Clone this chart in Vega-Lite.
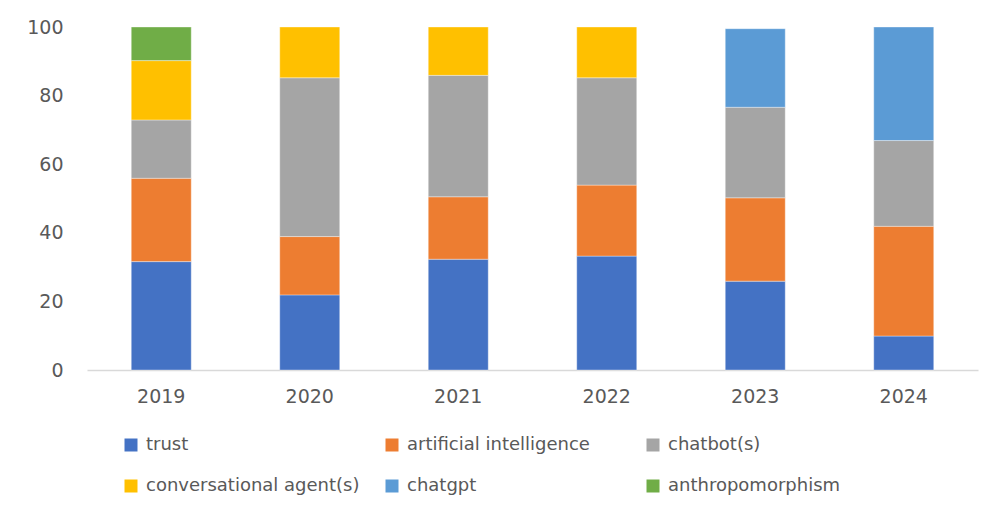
{
  "$schema": "https://vega.github.io/schema/vega-lite/v6.json",
  "autosize": {"type": "none"},
  "width": 891,
  "height": 343,
  "padding": {"left": 87, "top": 27, "right": 20, "bottom": 140},
  "background": "white",
  "data": {
    "values": [
      {"year": "2019", "term": "trust", "value": 31.6},
      {"year": "2019", "term": "artificial intelligence", "value": 24.3},
      {"year": "2019", "term": "chatbot(s)", "value": 17.0},
      {"year": "2019", "term": "conversational agent(s)", "value": 17.3},
      {"year": "2019", "term": "anthropomorphism", "value": 9.8},
      {"year": "2020", "term": "trust", "value": 21.9},
      {"year": "2020", "term": "artificial intelligence", "value": 17.0},
      {"year": "2020", "term": "chatbot(s)", "value": 46.3},
      {"year": "2020", "term": "conversational agent(s)", "value": 14.8},
      {"year": "2021", "term": "trust", "value": 32.3},
      {"year": "2021", "term": "artificial intelligence", "value": 18.2},
      {"year": "2021", "term": "chatbot(s)", "value": 35.4},
      {"year": "2021", "term": "conversational agent(s)", "value": 14.1},
      {"year": "2022", "term": "trust", "value": 33.2},
      {"year": "2022", "term": "artificial intelligence", "value": 20.7},
      {"year": "2022", "term": "chatbot(s)", "value": 31.3},
      {"year": "2022", "term": "conversational agent(s)", "value": 14.8},
      {"year": "2023", "term": "trust", "value": 25.9},
      {"year": "2023", "term": "artificial intelligence", "value": 24.3},
      {"year": "2023", "term": "chatbot(s)", "value": 26.4},
      {"year": "2023", "term": "chatgpt", "value": 22.9},
      {"year": "2024", "term": "trust", "value": 9.9},
      {"year": "2024", "term": "artificial intelligence", "value": 32.0},
      {"year": "2024", "term": "chatbot(s)", "value": 25.0},
      {"year": "2024", "term": "chatgpt", "value": 33.1}
    ]
  },
  "transform": [
    {"calculate": "indexof(['trust', 'artificial intelligence', 'chatbot(s)', 'conversational agent(s)', 'chatgpt', 'anthropomorphism'], datum.term)", "as": "stackOrder"}
  ],
  "mark": {"type": "bar", "stroke": "white", "strokeWidth": 0.6, "strokeOpacity": 0.6},
  "encoding": {
    "x": {
      "field": "year",
      "type": "ordinal",
      "scale": {"paddingInner": 0.596, "paddingOuter": 0.298},
      "axis": {
        "title": null,
        "labelAngle": 0,
        "ticks": false,
        "domainColor": "#D9D9D9",
        "domainWidth": 1.5,
        "labelFont": "DejaVu Sans",
        "labelFontSize": 19,
        "labelColor": "#595959",
        "labelPadding": 17,
        "grid": false
      }
    },
    "y": {
      "field": "value",
      "type": "quantitative",
      "stack": "zero",
      "scale": {"domain": [0, 100], "nice": false},
      "axis": {
        "title": null,
        "values": [0, 20, 40, 60, 80, 100],
        "ticks": false,
        "domain": false,
        "grid": false,
        "labelFont": "DejaVu Sans",
        "labelFontSize": 19,
        "labelColor": "#595959",
        "labelPadding": 24
      }
    },
    "color": {
      "field": "term",
      "type": "nominal",
      "sort": ["trust", "artificial intelligence", "chatbot(s)", "conversational agent(s)", "chatgpt", "anthropomorphism"],
      "scale": {
        "domain": ["trust", "artificial intelligence", "chatbot(s)", "conversational agent(s)", "chatgpt", "anthropomorphism"],
        "range": ["#4472C4", "#ED7D31", "#A5A5A5", "#FFC000", "#5B9BD5", "#70AD47"]
      },
      "legend": {
        "title": null,
        "orient": "none",
        "legendX": 35,
        "legendY": 409,
        "direction": "horizontal",
        "columns": 3,
        "gridAlign": "all",
        "columnPadding": 23,
        "rowPadding": 23,
        "symbolType": "square",
        "symbolSize": 169,
        "symbolStrokeWidth": 0,
        "symbolOpacity": 1,
        "labelFont": "DejaVu Sans",
        "labelFontSize": 18,
        "labelColor": "#595959",
        "labelOffset": 6,
        "labelLimit": 400
      }
    },
    "order": {"field": "stackOrder", "type": "quantitative", "sort": "ascending"}
  },
  "config": {"view": {"stroke": null}}
}
